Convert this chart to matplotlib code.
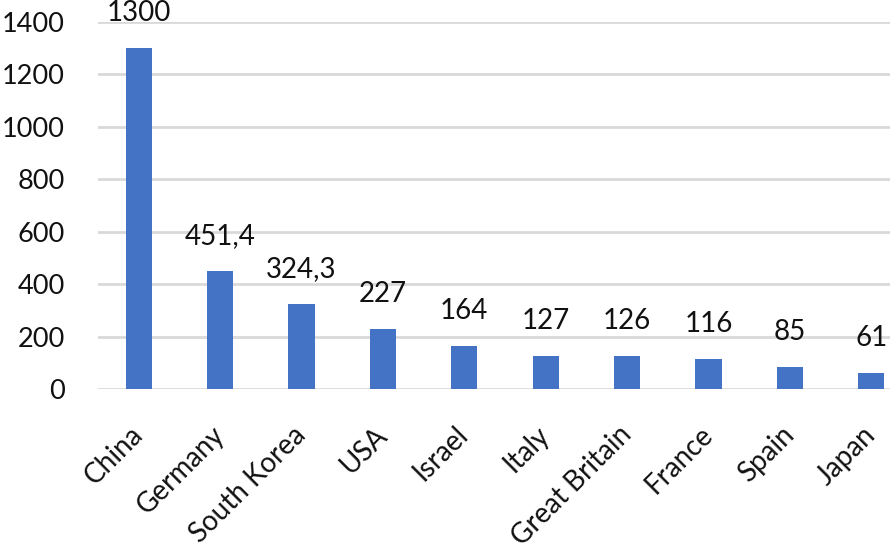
import matplotlib
matplotlib.use('Agg')
import matplotlib.pyplot as plt
import numpy as np

# datos del grafico
paises = ['China', 'Germany', 'South Korea', 'USA', 'Israel', 'Italy',
          'Great Britain', 'France', 'Spain', 'Japan']
valores = [1300, 451.4, 324.3, 227, 164, 127, 126, 116, 85, 61]
etiquetas = ['1300', '451,4', '324,3', '227', '164', '127', '126', '116', '85', '61']
marcas_y = [0, 200, 400, 600, 800, 1000, 1200, 1400]

plt.rcParams['font.family'] = ['Lato', 'DejaVu Sans']

fig = plt.figure(figsize=(8.9, 5.56), dpi=100)
ax = fig.add_axes([98 / 890, 1 - 389 / 556, 1 - 98 / 890, 367 / 556])

x = np.arange(len(paises))
barras = ax.bar(x, valores, width=0.32, color='#4472C4', zorder=3)

for xi, v, txt in zip(x, valores, etiquetas):
    ax.annotate(txt, (xi, v), xytext=(0, 19.5), textcoords='offset points',
                ha='center', va='baseline', fontsize=20, color='#111111',
                annotation_clip=False)

ax.set_ylim(0, 1400)
ax.set_xlim(-0.5, 9.5 - 22 / 81.4)
ax.set_yticks(marcas_y)
ax.set_yticklabels([str(m) for m in marcas_y], fontsize=19.5, color='#111111')
ax.set_xticks(x)
ax.set_xticklabels(paises, fontsize=20, color='#111111', rotation=45,
                   ha='right', va='center', rotation_mode='anchor')

ax.tick_params(axis='y', length=0, pad=24)
ax.tick_params(axis='x', length=0, pad=30)
ax.grid(axis='y', color='#d9d9d9', linewidth=2, zorder=0)
ax.set_axisbelow(True)
for lado in ['top', 'right', 'left', 'bottom']:
    ax.spines[lado].set_visible(False)

fig.savefig('out.png', dpi=100)
